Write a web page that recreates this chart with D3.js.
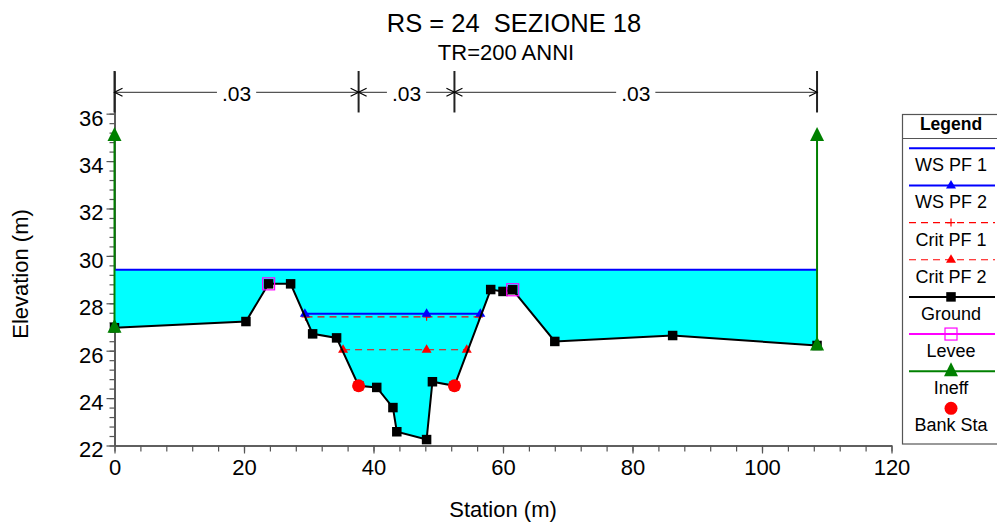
<!DOCTYPE html>
<meta charset="utf-8">
<head>
<title>RS = 24  SEZIONE 18</title>
<script src="https://d3js.org/d3.v7.min.js"></script>
<style>
  body { margin: 0; background: #fff; }
  svg { font-family: "Liberation Sans", Arial, sans-serif; }
</style>
</head>

<div id="chart"></div>

<script>
  // --- dati della sezione ---
  var groundSta  = [0, 20.3, 23.8, 27.2, 30.6, 34.3, 37.7, 40.5, 43.0, 43.6, 48.2, 49.1, 52.5, 58.1, 60.0, 61.5, 68.0, 86.2, 108.5];
  var groundElev = [26.97, 27.23, 28.82, 28.82, 26.71, 26.54, 24.52, 24.45, 23.60, 22.58, 22.25, 24.69, 24.52, 28.58, 28.50, 28.57, 26.39, 26.64, 26.22];

  var leveeSta  = [23.8, 61.5];
  var leveeElev = [28.82, 28.57];
  var bankSta   = [37.7, 52.5];
  var bankElev  = [24.52, 24.52];

  var wsPF1Sta  = [0, 108.5];
  var wsPF1Elev = 29.41;
  var wsPF2Sta  = [29.4, 48.2, 56.5];
  var wsPF2Elev = 27.56;
  var critPF1Sta  = [29.5, 48.2, 56.3];
  var critPF1Elev = 27.43;
  var critPF2Sta  = [35.3, 48.2, 54.4];
  var critPF2Elev = 26.04;

  var ineffSta  = [0, 108.5];
  var ineffElev = 35.06;

  var nBounds = [0, 37.7, 52.5, 108.5];
  var nValues = [".03", ".03", ".03"];

  var xTicks = [0, 20, 40, 60, 80, 100, 120];
  var yTicks = [22, 24, 26, 28, 30, 32, 34, 36];

  var ground = groundSta.map(function(s, i) { return {sta: s, elev: groundElev[i]}; });

  // --- dimensioni ---
  var W = 997, H = 525;
  var margin = {top: 71, left: 114.5};
  var width = 777, height = 374.5;

  var svg = d3.select("#chart").append("svg")
    .attr("width", W).attr("height", H);

  var g = svg.append("g")
    .attr("transform", "translate(" + margin.left + "," + margin.top + ")");

  var x = d3.scaleLinear().domain([0, 120]).range([0, width]);
  var y = d3.scaleLinear().domain([22, 37.8]).range([height, 0]);

  // titoli
  svg.append("text")
    .attr("x", 514).attr("y", 32)
    .attr("text-anchor", "middle")
    .style("font-size", "25.5px")
    .style("white-space", "pre")
    .text("RS = 24  SEZIONE 18");
  svg.append("text")
    .attr("x", 506).attr("y", 60)
    .attr("text-anchor", "middle")
    .style("font-size", "22px")
    .text("TR=200 ANNI");

  // assi
  var axisColor = "#555";
  var xMinor = g.append("g")
    .attr("transform", "translate(0," + height + ")")
    .call(d3.axisBottom(x).tickValues(d3.range(0, 121, 4)).tickSize(6).tickSizeOuter(0).tickFormat(""));
  var xAxis = g.append("g")
    .attr("transform", "translate(0," + height + ")")
    .call(d3.axisBottom(x).tickValues(xTicks).tickSize(8).tickSizeOuter(0).tickPadding(6));
  var yMinor = g.append("g")
    .call(d3.axisLeft(y).tickValues(d3.range(22, 36.01, 0.4)).tickSize(5).tickSizeOuter(0).tickFormat(""));
  var yAxis = g.append("g")
    .call(d3.axisLeft(y).tickValues(yTicks).tickSize(8).tickSizeOuter(0).tickPadding(3));

  [xMinor, xAxis, yMinor, yAxis].forEach(function(a) {
    a.attr("font-size", null).attr("font-family", null);
    a.select(".domain").attr("stroke", axisColor).attr("stroke-width", 1.6);
    a.selectAll(".tick line").attr("stroke", axisColor).attr("stroke-width", 1.2);
    a.selectAll("text").style("font-size", "22px").attr("fill", "#000");
  });
  yAxis.selectAll("text").attr("dy", "0.52em");

  svg.append("text")
    .attr("x", 503).attr("y", 517)
    .attr("text-anchor", "middle")
    .style("font-size", "22px")
    .text("Station (m)");
  svg.append("text")
    .attr("transform", "translate(28,274) rotate(-90)")
    .attr("text-anchor", "middle")
    .style("font-size", "22px")
    .text("Elevation (m)");

  // acqua WS PF 1
  var area = d3.area()
    .x(function(d) { return x(d.sta); })
    .y0(y(wsPF1Elev))
    .y1(function(d) { return y(d.elev); });
  g.append("path").datum(ground)
    .attr("d", area)
    .attr("fill", "#00ffff");

  g.append("line")
    .attr("x1", x(wsPF1Sta[0])).attr("x2", x(wsPF1Sta[1]))
    .attr("y1", y(wsPF1Elev)).attr("y2", y(wsPF1Elev))
    .attr("stroke", "#0000ff").attr("stroke-width", 2);

  // critiche
  function hLine(sta, elev, color, dash) {
    g.append("line")
      .attr("x1", x(d3.min(sta))).attr("x2", x(d3.max(sta)))
      .attr("y1", y(elev)).attr("y2", y(elev))
      .attr("stroke", color).attr("stroke-width", dash ? 1.2 : 2)
      .attr("stroke-dasharray", dash ? "7,5" : null);
  }
  hLine(critPF2Sta, critPF2Elev, "#ff0000", true);
  hLine(critPF1Sta, critPF1Elev, "#ff0000", true);
  hLine(wsPF2Sta, wsPF2Elev, "#0000ff", false);

  // marcatori
  function triSmall(sel, color) {
    sel.append("path").attr("d", "M0,-5.5L5,3L-5,3Z").attr("fill", color);
  }
  function plus(sel, color) {
    sel.append("path").attr("d", "M-4,0H4M0,-4V4").attr("stroke", color).attr("stroke-width", 1.2);
  }
  function square(sel) {
    sel.append("rect").attr("x", -4.75).attr("y", -4.75).attr("width", 9.5).attr("height", 9.5).attr("fill", "#000");
  }
  function openSquare(sel) {
    sel.append("rect").attr("x", -6).attr("y", -6).attr("width", 12).attr("height", 12)
      .attr("fill", "none").attr("stroke", "#ff00ff").attr("stroke-width", 1.2);
  }
  function triBig(sel) {
    sel.append("path").attr("d", "M0,-9L7,5L-7,5Z").attr("fill", "#008000");
  }
  function dot(sel) {
    sel.append("circle").attr("r", 6.5).attr("fill", "#ff0000");
  }
  function markers(sta, elev, fn, color) {
    sta.forEach(function(s, i) {
      var e = Array.isArray(elev) ? elev[i] : elev;
      var m = g.append("g").attr("transform", "translate(" + x(s) + "," + y(e) + ")");
      fn(m, color);
    });
  }

  markers(critPF1Sta, critPF1Elev, plus, "#ff0000");
  markers(critPF2Sta, critPF2Elev, triSmall, "#ff0000");
  markers(wsPF2Sta, wsPF2Elev, triSmall, "#0000ff");

  // terreno
  var line = d3.line()
    .x(function(d) { return x(d.sta); })
    .y(function(d) { return y(d.elev); });
  g.append("path").datum(ground)
    .attr("d", line)
    .attr("fill", "none").attr("stroke", "#000").attr("stroke-width", 2);
  markers(groundSta, groundElev, square);
  markers(leveeSta, leveeElev, openSquare);
  markers(bankSta, bankElev, dot);

  // aree inefficaci
  ineffSta.forEach(function(s) {
    var ge = groundElev[groundSta.indexOf(s)];
    g.append("line")
      .attr("x1", x(s)).attr("x2", x(s))
      .attr("y1", y(ge)).attr("y2", y(ineffElev))
      .attr("stroke", "#008000").attr("stroke-width", 2);
    markers([s, s], [ge, ineffElev], triBig);
  });

  // valori di Manning
  var nY = y(36.9);
  nBounds.forEach(function(b) {
    g.append("line")
      .attr("x1", x(b)).attr("x2", x(b))
      .attr("y1", y(37.8)).attr("y2", y(36.05))
      .attr("stroke", "#222").attr("stroke-width", 2);
  });
  nValues.forEach(function(v, i) {
    var x1 = x(nBounds[i]), x2 = x(nBounds[i + 1]);
    var ng = g.append("g");
    ng.append("line")
      .attr("x1", x1).attr("x2", x2).attr("y1", nY).attr("y2", nY)
      .attr("stroke", "#555").attr("stroke-width", 1.2);
    ng.append("path")
      .attr("d", "M" + (x1 + 8) + "," + (nY - 4) + "L" + x1 + "," + nY + "L" + (x1 + 8) + "," + (nY + 4) +
                 "M" + (x2 - 8) + "," + (nY - 4) + "L" + x2 + "," + nY + "L" + (x2 - 8) + "," + (nY + 4))
      .attr("fill", "none").attr("stroke", "#000").attr("stroke-width", 1.2);
    var bg = ng.append("rect").attr("fill", "#fff");
    var t = ng.append("text")
      .attr("x", (x1 + x2) / 2).attr("y", nY + 8.5)
      .attr("text-anchor", "middle")
      .style("font-size", "21px")
      .text(v);
    var bb = t.node().getBBox();
    bg.attr("x", bb.x - 5).attr("y", nY - 3).attr("width", bb.width + 10).attr("height", 6);
  });

  // legenda
  var leg = svg.append("g");
  leg.append("rect")
    .attr("x", 902.5).attr("y", 114.5).attr("width", 110).attr("height", 329.5)
    .attr("fill", "#fff").attr("stroke", "#555").attr("stroke-width", 1.2);
  leg.append("line")
    .attr("x1", 902.5).attr("x2", 1000).attr("y1", 138.5).attr("y2", 138.5)
    .attr("stroke", "#555").attr("stroke-width", 1.2);
  leg.append("text")
    .attr("x", 951).attr("y", 130)
    .attr("text-anchor", "middle")
    .style("font-size", "17.5px").style("font-weight", "bold")
    .text("Legend");

  var legNames  = ["WS PF 1", "WS PF 2", "Crit PF 1", "Crit PF 2", "Ground", "Levee", "Ineff", "Bank Sta"];
  var legColors = ["#0000ff", "#0000ff", "#ff0000", "#ff0000", "#000000", "#ff00ff", "#008000", null];
  var legDash   = [false, false, true, true, false, false, false, false];
  var legMarks  = [null, triSmall, plus, triSmall, square, openSquare, triBig, dot];

  legNames.forEach(function(name, i) {
    var ly = 148.3 + i * 37.15;
    if (legColors[i]) {
      leg.append("line")
        .attr("x1", 909).attr("x2", 995).attr("y1", ly).attr("y2", ly)
        .attr("stroke", legColors[i]).attr("stroke-width", legDash[i] ? 1.2 : 2)
        .attr("stroke-dasharray", legDash[i] ? "7,5" : null);
    }
    if (legMarks[i]) {
      var m = leg.append("g").attr("transform", "translate(951," + ly + ")");
      legMarks[i](m, legColors[i]);
    }
    leg.append("text")
      .attr("x", 951).attr("y", ly + 23)
      .attr("text-anchor", "middle")
      .style("font-size", "18px")
      .text(name);
  });
</script>
